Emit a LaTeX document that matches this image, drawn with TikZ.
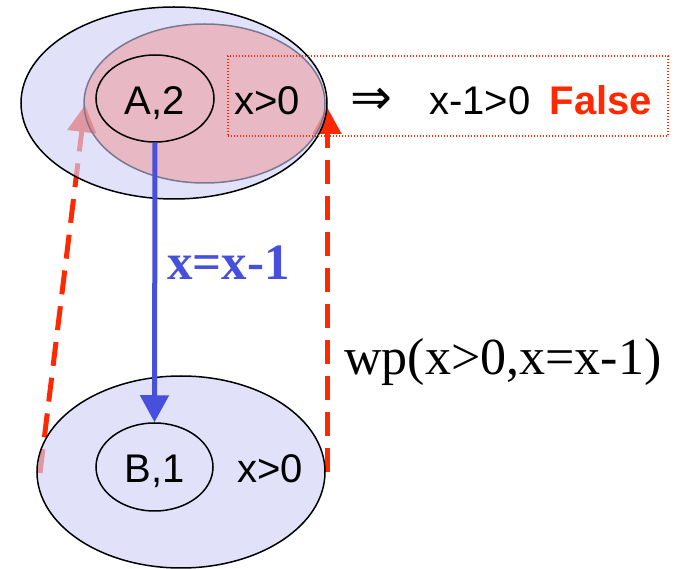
\documentclass[tikz,border=0pt]{standalone}
\usepackage{fontspec}
\setmainfont{Liberation Serif}
\newfontfamily\arial{Liberation Sans}
\newfontfamily\dejavu{DejaVu Sans}
\usetikzlibrary{shapes.geometric,arrows.meta}
\definecolor{rred}{RGB}{255,40,0}
\definecolor{bblue}{RGB}{70,80,220}
\definecolor{lblue}{RGB}{209,211,248}
\definecolor{salmon}{RGB}{244,112,104}
\definecolor{ggrey}{RGB}{120,120,145}
\tikzset{
  ell/.style={ellipse, inner sep=0pt, line width=1.5pt},
  outerell/.style={ell, draw=black, fill=lblue, fill opacity=0.65, draw opacity=1},
  pinkell/.style={ell, draw=ggrey, fill=salmon, fill opacity=0.37, draw opacity=1},
  stateell/.style={ell, draw=black},
  sanstext/.style={font=\arial\fontsize{40}{48}\selectfont, inner sep=0pt, anchor=base},
  wparrow/.style={rred, line width=5pt, dash pattern=on 24pt off 12pt, -{Triangle[length=27pt,width=28pt]}},
  asgarrow/.style={bblue, line width=5pt, -{Triangle[length=27pt,width=28pt]}}
}
\begin{document}
\begin{tikzpicture}[x=1pt,y=-1pt]
\useasboundingbox (0,0) rectangle (681,569);
% coordinates for dashed connectors
\coordinate (lb) at (40,473);
\coordinate (lt) at (85,105);
\coordinate (rb) at (327,472);
\coordinate (rt) at (327,107);
\draw[wparrow] (lb) -- (lt);
\draw[wparrow] (rb) -- (rt);
% top ellipses
\node[outerell, minimum width=306pt, minimum height=192pt] (outerA) at (174,103) {};
\node[pinkell, minimum width=241pt, minimum height=159pt] (pinkA) at (204.5,103.5) {};
\node[stateell, minimum width=118pt, minimum height=87pt] (A) at (155,98.5) {};
% bottom ellipses
\node[outerell, minimum width=288pt, minimum height=192pt] (outerB) at (181,472) {};
\node[stateell, minimum width=117pt, minimum height=88pt] (B) at (154.5,467) {};
% dotted box
\node[draw=rred, line width=1.3pt, dash pattern=on 1.3pt off 1.7pt, minimum width=440pt, minimum height=80pt, inner sep=0pt] (box) at (448,96) {};
% texts
\node[sanstext] (Alab) at (155,115) {A,2};
\node[sanstext] (xa) at (267,115) {x>0};
\node[inner sep=0pt, anchor=center, font=\dejavu\fontsize{50}{60}\selectfont] (impl) at (371,101) {⇒};
\node[sanstext] (cond) at (480,115) {x-1>0};
\node[sanstext, font=\arial\bfseries\fontsize{40}{48}\selectfont, text=rred] (false) at (601,115) {False};
\node[sanstext] (Blab) at (155,483) {B,1};
\node[sanstext] (xb) at (270,483) {x>0};
\node[inner sep=0pt, anchor=base, font=\bfseries\fontsize{51}{60}\selectfont, text=bblue] (asg) at (228.5,280) {x=x-1};
\node[inner sep=0pt, anchor=base, font=\fontsize{52}{62}\selectfont] (wp) at (503,375) {wp(x>0,x=x-1)};
% assignment arrow
\draw[asgarrow] (A.south) -- (B.north);
\end{tikzpicture}
\end{document}
